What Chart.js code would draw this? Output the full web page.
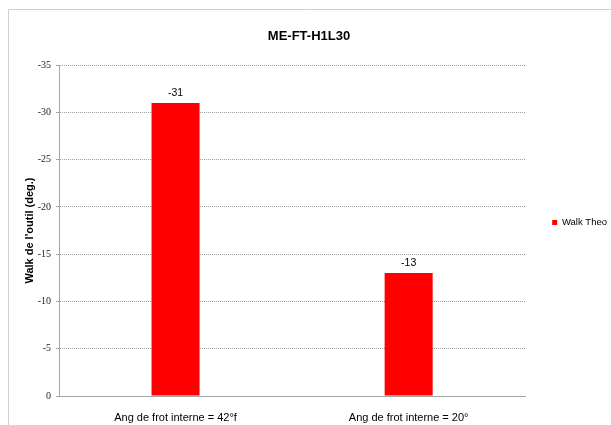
<!DOCTYPE html>
<html>
<head>
<meta charset="utf-8">
<script src="https://cdn.jsdelivr.net/npm/chart.js@4.4.1/dist/chart.umd.min.js"></script>
<style>
  html, body { margin: 0; padding: 0; background: #ffffff; }
  #wrap { position: absolute; left: 0; top: 0; width: 611px; height: 425px; }
</style>
</head>
<body>
<div id="wrap"><canvas id="c" width="611" height="425"></canvas></div>
<script>
const categories = ['Ang de frot interne = 42°f', 'Ang de frot interne = 20°'];
const walkTheo = [-31, -13];
const seriesName = 'Walk Theo';
const yTickValues = [0, -5, -10, -15, -20, -25, -30, -35];
const chartTitle = 'ME-FT-H1L30';
const yAxisTitle = "Walk de l'outil (deg.)";

const framePlugin = {
  id: 'frame',
  beforeDraw(chart) {
    const ctx = chart.ctx;
    ctx.save();
    ctx.fillStyle = '#ffffff';
    ctx.fillRect(0, 0, chart.width, chart.height);
    ctx.strokeStyle = '#cfcfcf';
    ctx.lineWidth = 1;
    ctx.beginPath();
    ctx.moveTo(8.5, chart.height + 5);
    ctx.lineTo(8.5, 9.5);
    ctx.lineTo(chart.width + 5, 9.5);
    ctx.stroke();
    ctx.restore();
  }
};

const valueLabels = {
  id: 'valueLabels',
  afterDatasetsDraw(chart) {
    const ctx = chart.ctx;
    ctx.save();
    ctx.font = '10.5px "Liberation Sans", Arial, sans-serif';
    ctx.fillStyle = '#000000';
    ctx.textAlign = 'center';
    ctx.textBaseline = 'middle';
    chart.data.datasets.forEach((ds, di) => {
      const meta = chart.getDatasetMeta(di);
      meta.data.forEach((el, i) => {
        ctx.fillText(String(ds.data[i]), el.x, el.y - 10);
      });
    });
    ctx.restore();
  }
};

new Chart(document.getElementById('c'), {
  type: 'bar',
  data: {
    labels: categories,
    datasets: [{
      label: seriesName,
      data: walkTheo,
      backgroundColor: '#ff0000',
      borderWidth: 0,
      categoryPercentage: 1,
      barPercentage: 0.206
    }]
  },
  plugins: [framePlugin, valueLabels],
  options: {
    responsive: false,
    animation: false,
    devicePixelRatio: 1,
    layout: { padding: { left: 1, top: 10, right: -6, bottom: 0 } },
    plugins: {
      title: {
        display: true,
        text: chartTitle,
        color: '#000000',
        font: { family: '"Liberation Sans", Arial, sans-serif', size: 13, weight: 'bold' },
        padding: { top: 19, bottom: 20.5 }
      },
      legend: {
        display: true,
        position: 'right',
        title: { display: true, text: '', padding: 0, font: { size: 8.4 } },
        labels: {
          boxWidth: 5,
          boxHeight: 5,
          padding: 27,
          color: '#000000',
          font: { family: '"Liberation Sans", Arial, sans-serif', size: 9.5 }
        }
      },
      tooltip: { enabled: false }
    },
    scales: {
      x: {
        grid: { display: false, drawTicks: false },
        border: { display: true, color: '#a6a6a6', width: 1 },
        ticks: {
          padding: 15,
          color: '#000000',
          font: { family: '"Liberation Sans", Arial, sans-serif', size: 11 }
        },
        afterFit(scale) { scale.height = 29; }
      },
      y: {
        reverse: true,
        min: -35,
        max: 0,
        afterBuildTicks(scale) {
          scale.ticks = yTickValues.map(v => ({ value: v }));
        },
        grid: {
          color: '#a0a0a0',
          lineWidth: 1,
          drawTicks: true,
          tickLength: 3,
          tickColor: '#a6a6a6',
          tickBorderDash: []
        },
        border: { display: true, color: '#a6a6a6', width: 1, dash: [1, 1] },
        ticks: {
          padding: 5,
          color: '#222222',
          font: { family: '"Liberation Serif", "Times New Roman", serif', size: 10 },
          callback: (v) => String(v)
        },
        title: {
          display: true,
          text: yAxisTitle,
          color: '#000000',
          font: { family: '"Liberation Sans", Arial, sans-serif', size: 11, weight: 'bold' },
          padding: { top: 22, bottom: 0 }
        },
        afterFit(scale) { scale.width = 58; }
      }
    }
  }
});
</script>
</body>
</html>
